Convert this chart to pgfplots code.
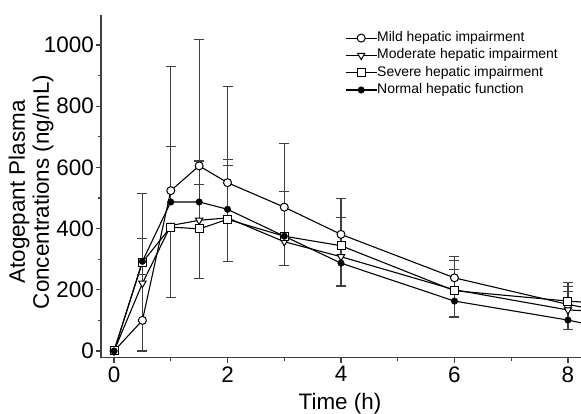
\documentclass[border=0pt]{standalone}
\usepackage{fontspec}
\setmainfont{Liberation Sans}
\usepackage{pgfplots}
\pgfplotsset{compat=1.18}
\definecolor{axgray}{HTML}{404040}
\newcommand{\lblfont}{\fontsize{22.5}{24}\selectfont}

\begin{document}
\begin{tikzpicture}
\useasboundingbox (0,0) rectangle (581bp,414bp);
\begin{axis}[
  at={(101bp,56.3bp)}, anchor=south west,
  scale only axis, width=480bp, height=342.7bp,
  xmin=-0.23, xmax=8.23, ymin=-22, ymax=1098,
  axis x line*=bottom, axis y line*=left,
  axis line style={axgray, line width=1.4bp},
  tick style={axgray, line width=1.2bp},
  tick align=outside,
  major tick length=5bp, minor tick length=3bp,
  xtick={0,2,4,6,8}, ytick={0,200,...,1000},
  minor x tick num=1, minor y tick num=1,
  /pgf/number format/assume math mode=true,
  /pgf/number format/1000 sep={},
  tick label style={font=\lblfont},
  yticklabel style={inner sep=2bp},
  xticklabel style={inner sep=3.5bp},
  legend style={draw=none, fill=none, at={(0.502,0.958)}, anchor=north west,
    font=\fontsize{14}{16}\selectfont, row sep=4.3bp,
    nodes={inner sep=0pt, text height=10bp, text depth=3bp},
    legend cell align=left},
  legend image code/.code={
    \draw[black, line width=1.1bp] (0bp,0bp) -- (31bp,0bp);
    \draw[#1] plot coordinates {(15.5bp,0bp)};},
]
% error bars (vertical lines)
\pgfplotsset{ebar/.style={only marks, mark=none, forget plot,
  error bars/.cd, y explicit, y dir=#1, error mark=none,
  error bar style={draw=axgray, line width=1.2bp}}}
\addplot[ebar=plus] coordinates {
  (0.5,100) +- (0,414) (1,524) +- (0,406) (1.5,605) +- (0,413) (2,550) +- (0,315)
  (3,470) +- (0,207) (4,381) +- (0,118) (6,239) +- (0,71) (8,152) +- (0,73)};
\addplot[ebar=plus] coordinates {
  (0.5,293) +- (0,74) (1,487) +- (0,180) (1.5,487) +- (0,134) (2,463) +- (0,163)
  (3,375) +- (0,146) (4,287) +- (0,149) (6,163) +- (0,132) (8,101) +- (0,109)};
\addplot[ebar=plus] coordinates {
  (1.5,427) +- (0,116) (2,435) +- (0,170) (6,200) +- (0,67) (8,134) +- (0,60)};
\addplot[ebar=minus] coordinates {
  (0.5,290) +- (0,41) (1,405) +- (0,231) (1.5,399) +- (0,163) (2,430) +- (0,138)
  (3,375) +- (0,96) (4,344) +- (0,132) (6,197) +- (0,86) (8,163) +- (0,94)};
\addplot[ebar=minus] coordinates {(0.5,221) +- (0,221)};
% error bar caps
\addplot[only marks, forget plot, mark=-, mark size=5bp, mark options={draw=axgray, line width=1.2bp}]
  coordinates {(0.5,514) (1,930) (1.5,1018) (2,865) (3,677) (4,499) (6,310) (8,225)
  (0.5,367) (1,667) (1.5,621) (2,626) (3,521) (4,436) (6,295) (8,210)
  (1.5,543) (2,605) (6,267) (8,194)
  (0.5,249) (1,174) (1.5,236) (2,292) (3,279) (4,212) (6,111) (8,69) (0.5,0)};

% connecting lines
\pgfplotsset{conn/.style={black, line width=1.1bp, mark=none, forget plot}}
\addplot[conn] coordinates {(0,0) (0.5,100) (1,524) (1.5,605) (2,550) (3,470) (4,381) (6,239) (8,152) (10,82)};
\addplot[conn] coordinates {(0,0) (0.5,221) (1,410) (1.5,427) (2,435) (3,357) (4,308) (6,200) (8,134) (10,117)};
\addplot[conn] coordinates {(0,0) (0.5,290) (1,405) (1.5,399) (2,430) (3,375) (4,344) (6,197) (8,163) (10,137)};
\addplot[conn] coordinates {(0,0) (0.5,293) (1,487) (1.5,487) (2,463) (3,375) (4,287) (6,163) (8,101) (10,23)};

% markers
\addplot[only marks, mark=*, mark size=4bp, mark options={draw=black, fill=white, line width=1bp}]
  coordinates {(0,0) (0.5,100) (1,524) (1.5,605) (2,550) (3,470) (4,381) (6,239) (8,152)};
\addlegendentry{Mild hepatic impairment}
\addplot[only marks, mark=triangle*, mark size=4.2bp, mark options={draw=black, fill=white, line width=1bp, rotate=180}]
  coordinates {(0,0) (0.5,221) (1,410) (1.5,427) (2,435) (3,357) (4,308) (6,200) (8,134)};
\addlegendentry{Moderate hepatic impairment}
\addplot[only marks, mark=square*, mark size=4bp, mark options={draw=black, fill=white, line width=1bp}]
  coordinates {(0,0) (0.5,290) (1,405) (1.5,399) (2,430) (3,375) (4,344) (6,197) (8,163)};
\addlegendentry{Severe hepatic impairment}
\addplot[only marks, mark=*, mark size=3.3bp, mark options={draw=black, fill=black}]
  coordinates {(0,0) (0.5,293) (1,487) (1.5,487) (2,463) (3,375) (4,287) (6,163) (8,101)};
\addlegendentry{Normal hepatic function}
\end{axis}
\node[rotate=90, align=center, font=\lblfont, inner sep=0pt] at (31bp,222bp)
  {Atogepant Plasma\\Concentrations (ng/mL)};
\node[font=\lblfont, inner sep=0pt, anchor=base] at (340bp,5bp) {Time (h)};
\end{tikzpicture}
\end{document}
